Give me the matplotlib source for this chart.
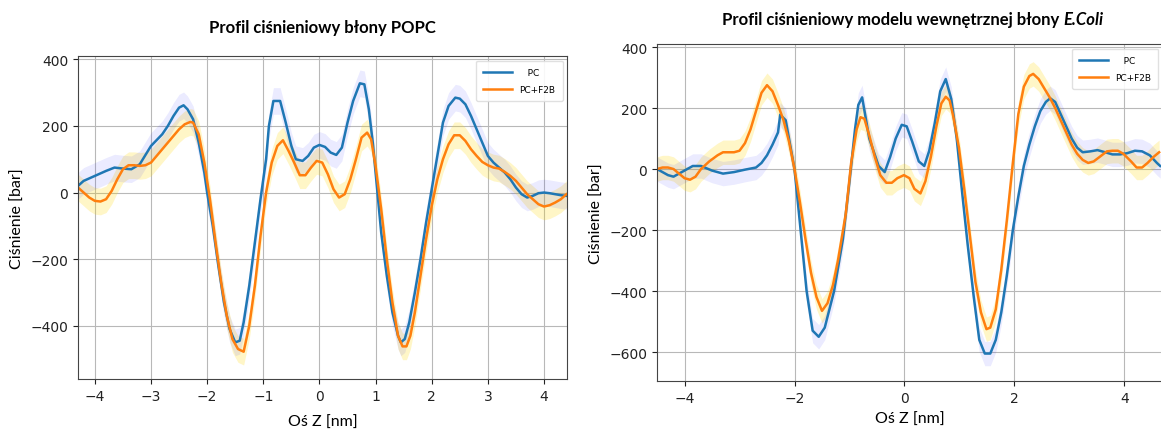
import matplotlib
matplotlib.use("Agg")
import matplotlib.pyplot as plt
import numpy as np

# --- POPC membrane: pressure profile [bar] vs. Z [nm] ---
POPC_Z_PC = [-4.3, -4.2, -4.0, -3.8, -3.65, -3.5, -3.35, -3.2, -3.0, -2.8, -2.7, -2.6,
             -2.5, -2.42, -2.35, -2.25, -2.15, -2.05, -2.0, -1.9, -1.8, -1.7, -1.6,
             -1.5, -1.42, -1.35, -1.25, -1.15, -1.05, -0.95, -0.9, -0.82, -0.7, -0.6,
             -0.5, -0.42, -0.3, -0.2, -0.1, 0.0, 0.1, 0.2, 0.3, 0.4, 0.5, 0.6, 0.72,
             0.8, 0.88, 0.95, 1.0, 1.05, 1.1, 1.2, 1.3, 1.4, 1.45, 1.52, 1.6, 1.7, 1.8,
             1.9, 2.0, 2.1, 2.2, 2.3, 2.42, 2.5, 2.6, 2.7, 2.8, 2.9, 3.0, 3.1, 3.2, 3.3,
             3.4, 3.5, 3.6, 3.7, 3.8, 3.9, 4.0, 4.1, 4.2, 4.3, 4.4]
POPC_PC = [20, 35, 50, 65, 75, 72, 70, 85, 140, 175, 200, 230,
           255, 262, 250, 220, 150, 60, 0, -100, -220, -330, -410,
           -450, -445, -390, -280, -150, -20, 100, 200, 275, 275, 210,
           140, 100, 95, 110, 135, 143, 137, 120, 113, 135, 210, 275, 328,
           325, 250, 150, 60, -30, -120, -250, -360, -430, -450, -440, -390, -300, -200,
           -90, 10, 110, 210, 260, 285, 282, 265, 230, 190, 150, 110, 90, 75, 60,
           40, 15, -5, -15, -10, -2, 0, -2, -5, -8, -10]

POPC_Z_F2B = [-4.3, -4.2, -4.1, -4.0, -3.9, -3.8, -3.7, -3.6, -3.5, -3.4, -3.3, -3.2,
              -3.1, -3.0, -2.9, -2.8, -2.7, -2.6, -2.5, -2.4, -2.3, -2.25, -2.15, -2.05,
              -1.95, -1.85, -1.75, -1.65, -1.55, -1.45, -1.35, -1.25, -1.15, -1.05,
              -0.95, -0.85, -0.75, -0.65, -0.55, -0.45, -0.35, -0.25, -0.15, -0.05,
              0.05, 0.15, 0.25, 0.35, 0.45, 0.55, 0.65, 0.75, 0.85, 0.92, 1.0, 1.1, 1.2,
              1.3, 1.4, 1.48, 1.55, 1.62, 1.7, 1.8, 1.9, 2.0, 2.1, 2.2, 2.3, 2.4, 2.5,
              2.6, 2.7, 2.8, 2.9, 3.0, 3.1, 3.2, 3.3, 3.4, 3.5, 3.6, 3.7, 3.8, 3.9, 4.0,
              4.1, 4.2, 4.3, 4.4]
POPC_F2B = [15, 0, -15, -25, -27, -20, 5, 40, 70, 82, 82, 80,
            82, 90, 110, 130, 150, 170, 190, 205, 212, 210, 175, 90,
            -20, -150, -270, -370, -440, -470, -478, -400, -280, -130,
            0, 90, 140, 157, 125, 90, 52, 52, 75, 95,
            90, 55, 10, -15, -5, 40, 100, 165, 180, 160, 80, -50, -200,
            -330, -430, -462, -462, -430, -360, -250, -140, -40, 40, 100, 145, 172, 172,
            155, 130, 110, 92, 82, 75, 72, 62, 50, 35, 15, -5, -20, -35, -42,
            -38, -30, -20, -5]

# --- E. coli inner membrane model ---
ECOLI_Z_PC = [-4.5, -4.3, -4.2, -4.05, -3.85, -3.7, -3.5, -3.3, -3.1, -2.9, -2.7, -2.6,
              -2.5, -2.4, -2.3, -2.26, -2.16, -2.0, -1.9, -1.78, -1.67, -1.56, -1.45,
              -1.28, -1.12, -1.0, -0.9, -0.84, -0.77, -0.64, -0.47, -0.36, -0.26, -0.16,
              -0.05, 0.04, 0.14, 0.26, 0.36, 0.45, 0.55, 0.65, 0.75, 0.85, 0.95, 1.05,
              1.15, 1.26, 1.36, 1.46, 1.56, 1.66, 1.76, 1.86, 1.97, 2.07, 2.17, 2.27,
              2.37, 2.47, 2.57, 2.65, 2.74, 2.84, 2.94, 3.04, 3.14, 3.24, 3.38, 3.51,
              3.65, 3.78, 3.92, 4.05, 4.19, 4.32, 4.46, 4.59, 4.65]
ECOLI_PC = [0, -20, -25, -10, 10, 10, -5, -15, -10, -2, 5, 20,
            45, 80, 120, 178, 160, 0, -180, -400, -530, -550, -520,
            -400, -230, -40, 130, 210, 235, 100, 10, -10, 40, 100,
            145, 140, 90, 25, 10, 60, 150, 255, 295, 230, 100, -80,
            -250, -420, -560, -605, -605, -560, -470, -350, -200, -90, 10, 80,
            140, 190, 220, 232, 220, 180, 140, 100, 70, 55, 58, 62,
            55, 48, 48, 52, 60, 58, 45, 20, 10]

ECOLI_Z_F2B = [-4.5, -4.4, -4.3, -4.2, -4.1, -4.0, -3.9, -3.8, -3.7, -3.55, -3.4, -3.3,
               -3.1, -3.0, -2.9, -2.8, -2.7, -2.6, -2.5, -2.4, -2.3, -2.2, -2.1, -2.0,
               -1.9, -1.8, -1.7, -1.6, -1.5, -1.4, -1.3, -1.21, -1.07, -0.97, -0.87,
               -0.8, -0.73, -0.64, -0.54, -0.44, -0.33, -0.23, -0.13, -0.01, 0.09, 0.18,
               0.29, 0.38, 0.48, 0.58, 0.67, 0.75, 0.82, 0.89, 0.99, 1.09, 1.19, 1.29,
               1.39, 1.49, 1.56, 1.66, 1.76, 1.86, 1.97, 2.07, 2.17, 2.27, 2.34, 2.44,
               2.54, 2.64, 2.74, 2.84, 2.94, 3.04, 3.14, 3.24, 3.34, 3.44, 3.55, 3.68,
               3.78, 3.88, 3.98, 4.12, 4.22, 4.32, 4.42, 4.53, 4.63]
ECOLI_F2B = [0, 5, 5, 0, -15, -30, -35, -25, 0, 25, 45, 55,
             55, 60, 85, 130, 190, 250, 275, 255, 210, 160, 90, 0,
             -110, -230, -340, -420, -465, -440, -380, -300, -150, 20, 130,
             170, 165, 110, 40, -20, -45, -45, -30, -20, -30, -65,
             -80, -40, 40, 140, 215, 237, 225, 170, 70, -70, -220, -370,
             -470, -525, -520, -460, -330, -170, 20, 180, 270, 305, 312, 295,
             265, 235, 200, 160, 120, 80, 50, 30, 20, 25, 40, 58,
             60, 60, 50, 25, 5, 5, 20, 40, 55]

# half-width of the shaded uncertainty band [bar]
BAND_PC = 40
BAND_F2B = 40

LABEL_PC = "   PC"
LABEL_F2B = "PC+F2B"
COLOR_PC = "#1f77b4"
COLOR_F2B = "#ff7f0e"

TEXT_FONT = ["Lato", "DejaVu Sans"]


def draw_profile(ax, z_pc, pc, z_f2b, f2b):
    z_pc, pc = np.array(z_pc), np.array(pc)
    z_f2b, f2b = np.array(z_f2b), np.array(f2b)

    ax.fill_between(z_f2b, f2b - BAND_F2B, f2b + BAND_F2B, color="gold", alpha=0.22, lw=0)
    ax.fill_between(z_pc, pc - BAND_PC, pc + BAND_PC, color="blue", alpha=0.08, lw=0)
    ax.plot(z_pc, pc, color=COLOR_PC, lw=1.8, label=LABEL_PC)
    ax.plot(z_f2b, f2b, color=COLOR_F2B, lw=1.8, label=LABEL_F2B)

    ax.grid(True, color="#b8b8b8", lw=0.8)
    ax.set_axisbelow(True)
    for s in ax.spines.values():
        s.set_color("#444444")
    ax.tick_params(labelsize=10, colors="#222222")
    ax.set_xlabel("Oś Z [nm]", fontsize=11.5, family=TEXT_FONT, labelpad=9)
    ax.set_ylabel("Ciśnienie [bar]", fontsize=11.5, family=TEXT_FONT)
    ax.legend(loc="upper right", fontsize=6.5, handlelength=3.2, borderpad=0.8,
              labelspacing=0.9, framealpha=0.9, edgecolor="#dddddd")


fig = plt.figure(figsize=(11.61, 4.31), dpi=100)

ax1 = fig.add_axes([0.0672, 0.1183, 0.4212, 0.7494])
draw_profile(ax1, POPC_Z_PC, POPC_PC, POPC_Z_F2B, POPC_F2B)
ax1.set_xlim(-4.3, 4.41)
ax1.set_ylim(-560, 410)
ax1.set_xticks([-4, -3, -2, -1, 0, 1, 2, 3, 4])
ax1.set_yticks([-400, -200, 0, 200, 400])
ax1.set_title("Profil ciśnieniowy błony POPC", fontsize=12, fontweight="bold",
              family=TEXT_FONT, pad=17)

ax2 = fig.add_axes([0.5659, 0.1137, 0.4358, 0.7819])
draw_profile(ax2, ECOLI_Z_PC, ECOLI_PC, ECOLI_Z_F2B, ECOLI_F2B)
ax2.set_xlim(-4.5, 4.7)
ax2.set_ylim(-695, 410)
ax2.set_xticks([-4, -2, 0, 2, 4])
ax2.set_yticks([-600, -400, -200, 0, 200, 400])
ax2.xaxis.labelpad = 5

# title with the species name in bold italic, centred over the visible part of the panel
title_y = 1 - 20 / 431
t1 = fig.text(0.5, title_y, "Profil ciśnieniowy modelu wewnętrznej błony",
              fontsize=12, fontweight="bold", family=TEXT_FONT, ha="left", va="center")
t2 = fig.text(0.5, title_y, "E.Coli", fontsize=12, fontweight="bold",
              style="italic", family=TEXT_FONT, ha="left", va="center")
fig.canvas.draw()
r = fig.canvas.get_renderer()
w1 = t1.get_window_extent(r).width
w2 = t2.get_window_extent(r).width
gap = 4
x0 = 913 - (w1 + gap + w2) / 2
t1.set_x(x0 / 1161)
t2.set_x((x0 + w1 + gap) / 1161)

fig.savefig("out.png", dpi=100)
